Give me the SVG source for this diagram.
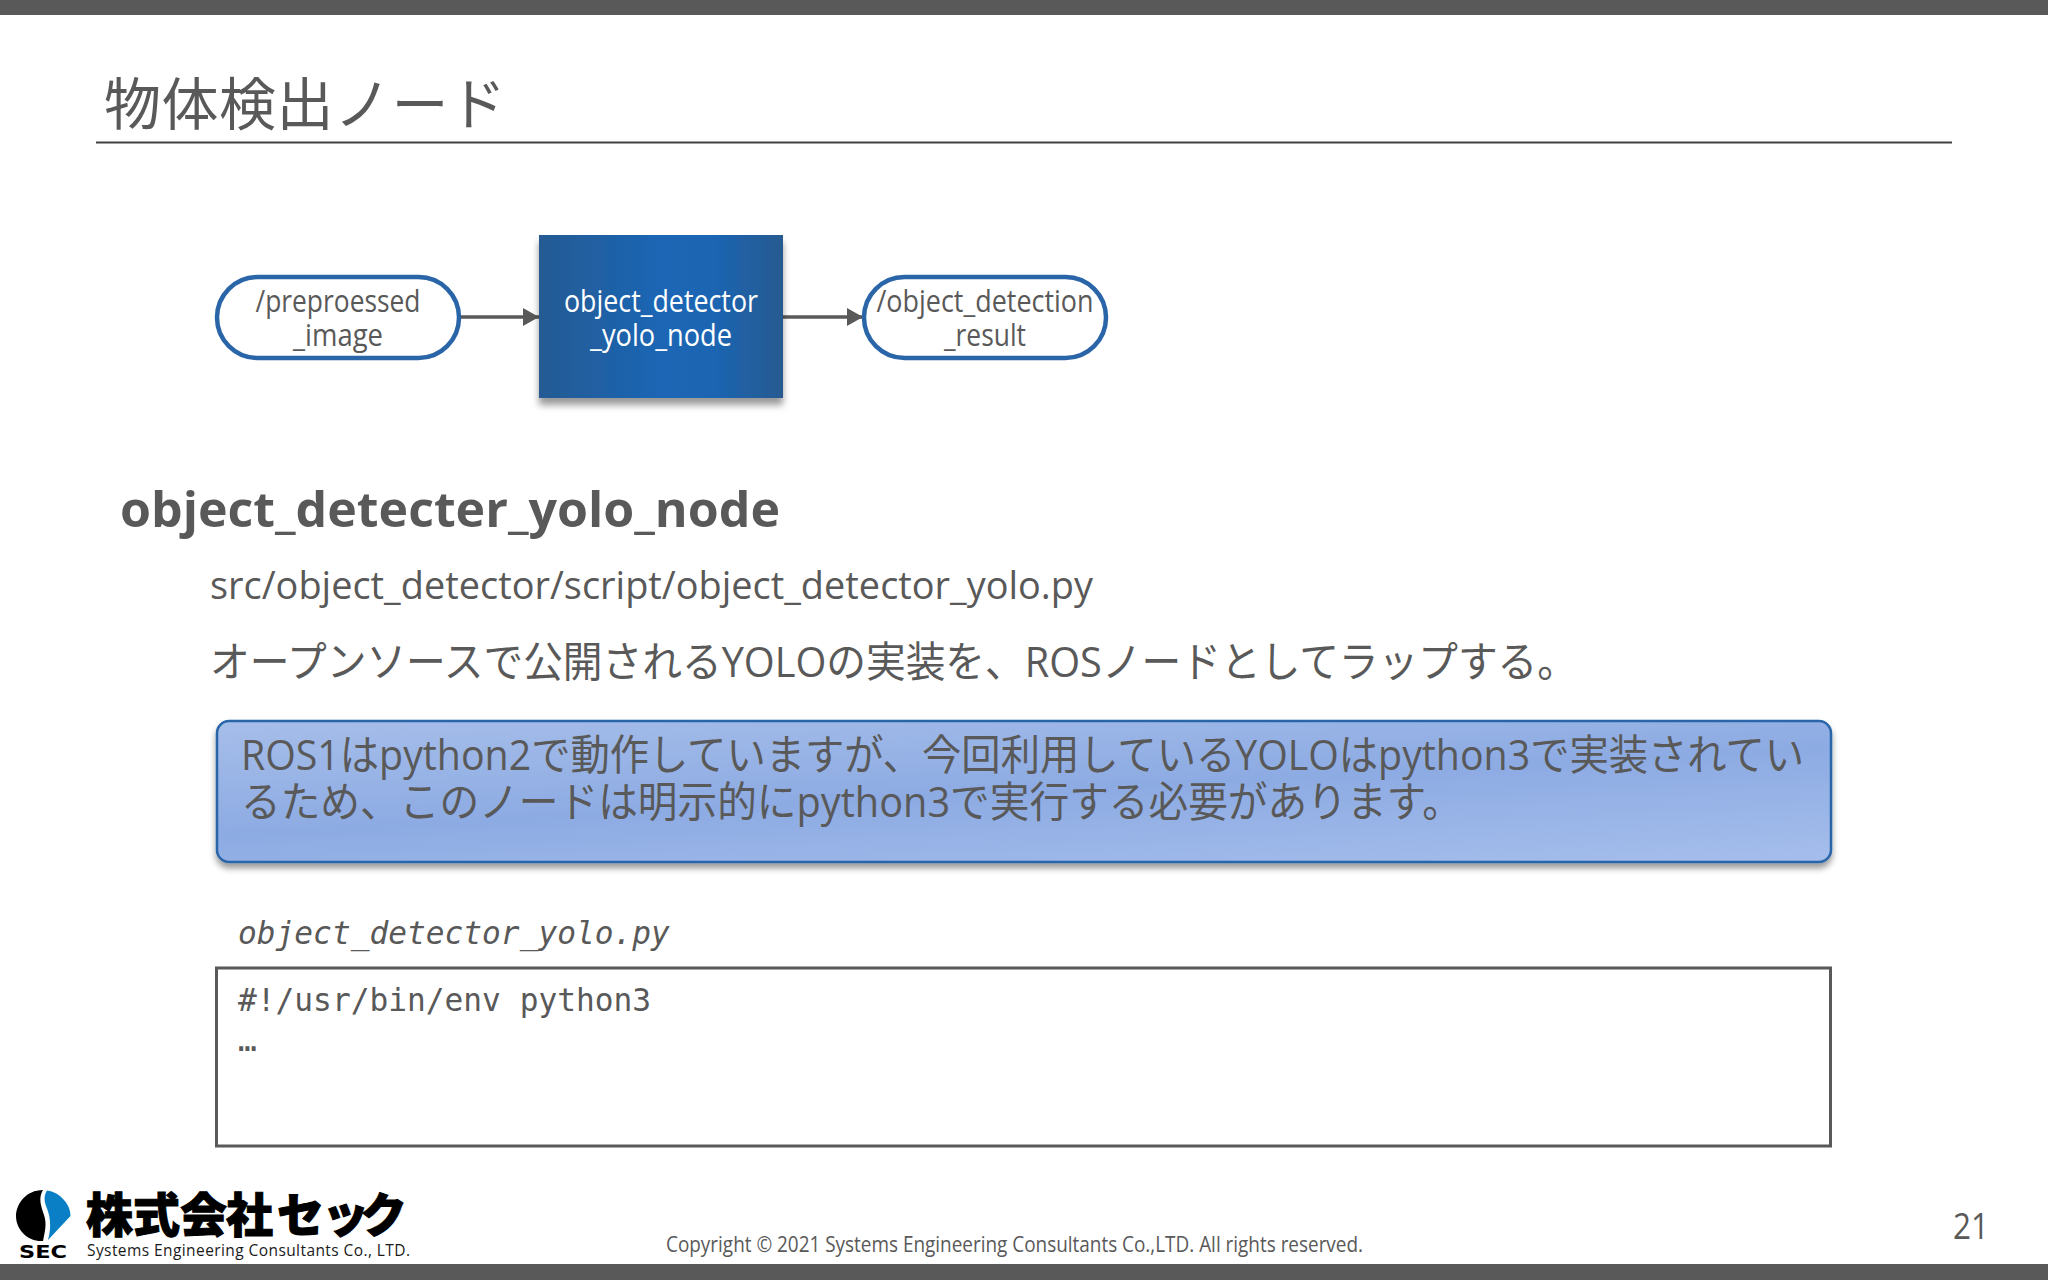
<svg xmlns="http://www.w3.org/2000/svg" width="2048" height="1280" viewBox="0 0 2048 1280">
<style>
text{font-family:"Open Sans","Noto Sans CJK JP",sans-serif;fill:#595959}
.ja{font-family:"Open Sans","Noto Sans CJK JP",sans-serif;font-weight:400}
.m{font-family:"DejaVu Sans Mono","Liberation Mono",monospace;font-size:31.2px}
.c{text-anchor:middle;font-size:31px}
.pill{fill:#fff;stroke:#2a65a8;stroke-width:4.5}
.cn{stroke:#595959;stroke-width:3.5;fill:none;marker-end:url(#ah)}
</style>
<defs>
<marker id="ah" markerUnits="userSpaceOnUse" markerWidth="16" markerHeight="18" refX="16" refY="9" orient="auto"><path d="M0 0L16 9L0 18Z" fill="#595959"/></marker>
<linearGradient id="bx" x1="0" x2="1" y1="0" y2="0"><stop offset="0" stop-color="#255a93"/><stop offset=".5" stop-color="#1b66b5"/><stop offset=".72" stop-color="#1c65b2"/><stop offset="1" stop-color="#275a90"/></linearGradient>
<linearGradient id="cl" x1=".03" x2=".97" y1="-.25" y2="1.25"><stop offset="0" stop-color="#adc3eb"/><stop offset=".5" stop-color="#8dabe3"/><stop offset="1" stop-color="#acc3ee"/></linearGradient>
<filter id="sh" x="-5%" y="-10%" width="110%" height="125%"><feDropShadow dx="0" dy="5" stdDeviation="3" flood-color="#000" flood-opacity=".4"/></filter>
<filter id="sh2" x="-5%" y="-10%" width="110%" height="125%"><feDropShadow dx="0" dy="7" stdDeviation="3.500" flood-color="#000" flood-opacity=".4"/></filter>
</defs>
<rect width="2048" height="1280" fill="#fff"/>
<rect width="2048" height="15" fill="#595959"/>
<rect y="1264" width="2048" height="16" fill="#595959"/>
<text class="ja" x="104" y="125" font-size="57" textLength="402">物体検出ノード</text>
<path d="M96 142.500H1952" stroke="#404040" stroke-width="2"/>
<g id="connectors">
<path class="cn" d="M460 317H539"/>
<path class="cn" d="M783 317H863"/>
</g>
<g id="preprocessed-image">
<rect class="pill" x="217" y="277" width="242" height="81" rx="40.500"/>
<text class="c" x="338" y="312" textLength="165" lengthAdjust="spacingAndGlyphs">/preproessed</text>
<text class="c" x="338" y="345.500" textLength="90" lengthAdjust="spacingAndGlyphs">_image</text>
</g>
<g id="object-detector-node">
<rect x="539" y="235" width="244" height="163" fill="url(#bx)" filter="url(#sh2)"/>
<text class="c" x="661" y="312" style="fill:#fff" textLength="194" lengthAdjust="spacingAndGlyphs">object_detector</text>
<text class="c" x="661" y="345.500" style="fill:#fff" textLength="142" lengthAdjust="spacingAndGlyphs">_yolo_node</text>
</g>
<g id="object-detection-result">
<rect class="pill" x="864" y="277" width="242" height="81" rx="40.500"/>
<text class="c" x="985" y="312" textLength="217" lengthAdjust="spacingAndGlyphs">/object_detection</text>
<text class="c" x="985" y="345.500" textLength="82" lengthAdjust="spacingAndGlyphs">_result</text>
</g>
<text x="120" y="527" font-size="48" font-weight="700" textLength="660" lengthAdjust="spacingAndGlyphs">object_detecter_yolo_node</text>
<text x="210" y="599" font-size="38" textLength="883" lengthAdjust="spacingAndGlyphs">src/object_detector/script/object_detector_yolo.py</text>
<text class="ja" x="210" y="677" font-size="42" textLength="1367" lengthAdjust="spacingAndGlyphs">オープンソースで公開されるYOLOの実装を、ROSノードとしてラップする。</text>
<g id="callout">
<rect x="217" y="721" width="1614" height="141" rx="12" fill="url(#cl)" stroke="#2a65a8" stroke-width="2.500" filter="url(#sh)"/>
<text class="ja" x="241" y="770" font-size="42" textLength="1563" lengthAdjust="spacingAndGlyphs">ROS1はpython2で動作していますが、今回利用しているYOLOはpython3で実装されてい</text>
<text class="ja" x="241" y="817" font-size="42" textLength="1221" lengthAdjust="spacingAndGlyphs">るため、このノードは明示的にpython3で実行する必要があります。</text>
</g>
<text class="m" x="238" y="944" font-style="italic">object_detector_yolo.py</text>
<g id="code-box">
<rect x="216.500" y="968" width="1614" height="178" fill="#fff" stroke="#595959" stroke-width="3"/>
<text class="m" x="238" y="1011">#!/usr/bin/env python3</text>
<text class="m" x="238" y="1051">…</text>
</g>
<g id="logo">
<path d="M43 1190C26 1190 16 1204 16 1216C16 1230 28 1242 43 1241C45 1231 47 1224 44 1215C41 1206 38 1198 43 1190Z" fill="#000"/>
<path d="M47 1190.500C60 1192 71 1205 70.500 1216L48 1240C52 1226 50 1215 46 1206C44 1200 44 1195 47 1190.500Z" fill="#0a7fc6"/>
<text x="19" y="1258" font-size="17" font-weight="700" style="fill:#000;font-family:'DejaVu Sans',sans-serif" textLength="48" lengthAdjust="spacingAndGlyphs">SEC</text>
<text x="86 133 180 226 277 322 360" y="1232" font-size="47" font-weight="900" style="fill:#000;stroke:#000;stroke-width:1;font-family:'Noto Sans CJK JP',sans-serif">株式会社セック</text>
<text x="87" y="1256" font-size="15.500" style="fill:#1a1a1a" textLength="323">Systems Engineering Consultants Co., LTD.</text>
</g>
<text x="666" y="1252" font-size="21" textLength="697" lengthAdjust="spacingAndGlyphs">Copyright © 2021 Systems Engineering Consultants Co.,LTD. All rights reserved.</text>
<text x="1953" y="1239" font-size="36" textLength="36" lengthAdjust="spacingAndGlyphs">21</text>
</svg>
